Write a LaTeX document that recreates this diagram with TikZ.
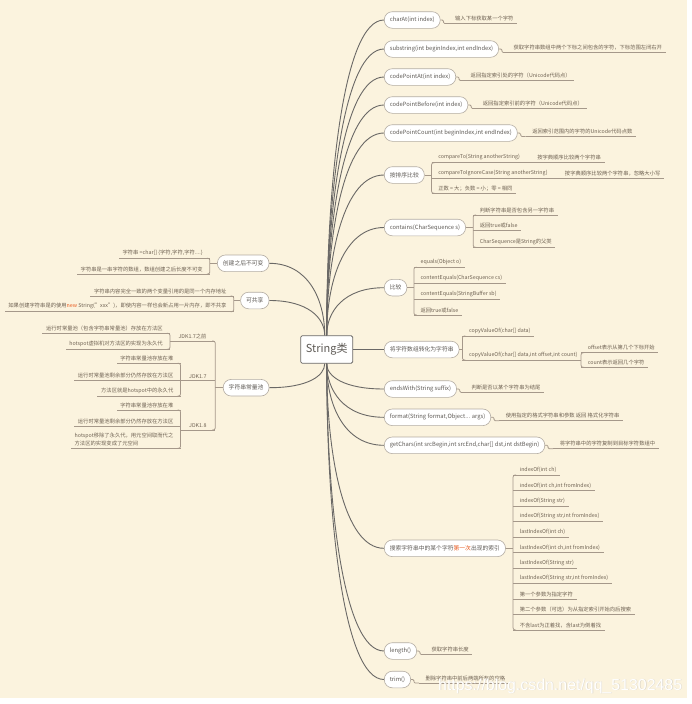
\documentclass[tikz,border=0pt]{standalone}
\usepackage{fontspec}
\setmainfont{Noto Sans CJK SC}
\newfontfamily\wmfont{Liberation Sans}
\usetikzlibrary{calc}
\definecolor{bg}{HTML}{FBF3DE}
\definecolor{nodeborder}{HTML}{B3ACA2}
\definecolor{nodetext}{HTML}{5E5A55}
\definecolor{subtext}{HTML}{6E6152}
\definecolor{ulc}{HTML}{A5988A}
\definecolor{connc}{HTML}{6A6866}
\definecolor{hl}{HTML}{E85A1E}
\definecolor{wmgray}{HTML}{DDD7CA}
\tikzset{
 rootbox/.style={draw=connc, line width=0.8pt, fill=white, rounded corners=1.5pt, minimum width=52pt, minimum height=27.6pt, inner sep=0pt, text=nodetext, font=\fontsize{11}{13}\selectfont},
 topic/.style={draw=nodeborder, line width=0.6pt, fill=white, rounded corners=8pt, minimum height=16.6pt, inner xsep=5.5pt, inner ysep=0pt, text=nodetext, font=\fontsize{5.8}{7}\selectfont},
 sub/.style={inner xsep=0pt, inner ysep=2.2pt, text=subtext, align=left, font=\fontsize{5.3}{8}\selectfont},
 uline/.style={draw=ulc, line width=0.75pt},
 conn/.style={draw=connc, line width=0.9pt},
}
% single label after a topic
\newcommand\TL[3]{%
  \coordinate (#1-a) at ([xshift=8pt,yshift=-3.5pt]#2.east);
  \node[sub, anchor=south west] (#1) at ([xshift=6.5pt]#1-a) {#3};
  \draw[uline] (#1-a) -- ([xshift=3.5pt]#1.south east);
  \draw[uline, rounded corners=1.2pt] (#2.east) -- ++(3pt,0pt) |- (#1-a);}
% right child on bracket
\newcommand\RS[4]{%
  \coordinate (#1-a) at (#2 |- 0,#3);
  \node[sub, anchor=south west] (#1) at ([xshift=6.5pt]#1-a) {#4};
  \draw[uline] (#1-a) -- ([xshift=3.5pt]#1.south east);}
% left child on bracket
\newcommand\LS[4]{%
  \coordinate (#1-a) at (#2 |- 0,#3);
  \node[sub, anchor=south east] (#1) at ([xshift=-7pt]#1-a) {#4};
  \draw[uline] (#1-a) -- ([xshift=-3.5pt]#1.south west);}
% JDK nodes
\newcommand\JD[4]{%
  \coordinate (#1-a) at (#2 |- 0,#3);
  \node[sub, inner xsep=8.5pt, anchor=south east] (#1) at (#1-a) {#4};
  \draw[uline] (#1.south west) -- (#1.south east);}
\newcommand\BR[2]{%
  \coordinate (#1-b) at ([xshift=#2]#1.east);
  \draw[uline] (#1.east) -- (#1-b);}
\newcommand\BL[2]{%
  \coordinate (#1-b) at ([xshift=-#2]#1.west);
  \draw[uline] (#1.west) -- (#1-b);}
\newcommand\VR[2]{\draw[uline, rounded corners=2pt] ([xshift=3pt]#1-a) -- (#1-a) -- (#2-a) -- ([xshift=3pt]#2-a);}
\newcommand\VL[2]{\draw[uline, rounded corners=2pt] ([xshift=-3pt]#1-a) -- (#1-a) -- (#2-a) -- ([xshift=-3pt]#2-a);}
\newcommand\cc[2]{\draw[conn] (#1) .. controls ($(#1)!0.5!(#1 |- #2)$) and ($(#1 |- #2)!0.3!(#2)$) .. (#2);}

\begin{document}
\begin{tikzpicture}[x=1pt,y=-1pt]
\useasboundingbox (0,0) rectangle (692,704);
\fill[white] (0,0) rectangle (692,704);
\fill[bg] (0,0) rectangle (687,698);

% root
\node[rootbox] (root) at (326.7,349.5) {String类};

% right topics
\node[topic, anchor=west] (charat) at (384,20) {charAt(int index)};
\node[topic, anchor=west] (substr) at (384,49) {substring(int beginIndex,int endIndex)};
\node[topic, anchor=west] (cpa) at (384,77) {codePointAt(int index)};
\node[topic, anchor=west] (cpb) at (384,105) {codePointBefore(int index)};
\node[topic, anchor=west] (cpc) at (384,133) {codePointCount(int beginIndex,int endIndex)};
\node[topic, anchor=west] (sort) at (384,175) {按排序比较};
\node[topic, anchor=west] (contains) at (384,227.5) {contains(CharSequence s)};
\node[topic, anchor=west] (cmp) at (384,287.7) {比较};
\node[topic, anchor=west] (arr) at (384,349.5) {将字符数组转化为字符串};
\node[topic, anchor=west] (ends) at (384,389) {endsWith(String suffix)};
\node[topic, anchor=west] (fmt) at (384,417.3) {format(String format,Object... args)};
\node[topic, anchor=west] (getc) at (384,445.3) {getChars(int srcBegin,int srcEnd,char[] dst,int dstBegin)};
\node[topic, anchor=west] (search) at (384,548.3) {搜索字符串中的某个字符\textcolor{hl}{第一次}出现的索引};
\node[topic, anchor=west] (len) at (384,651) {length()};
\node[topic, anchor=west] (trim) at (384,679.5) {trim()};

% left topics
\node[topic, anchor=east] (immut) at (269.3,263.3) {创建之后不可变};
\node[topic, anchor=east] (share) at (269.3,300.5) {可共享};
\node[topic, anchor=east] (pool) at (269.3,387.7) {字符串常量池};

% main connectors
\coordinate (rt) at (root.north);
\coordinate (rb) at (root.south);
\coordinate (rtl) at ([xshift=-2pt]root.north);
\coordinate (rbl) at ([xshift=-2pt]root.south);
\cc{rt}{charat.west}
\cc{rt}{substr.west}
\cc{rt}{cpa.west}
\cc{rt}{cpb.west}
\cc{rt}{cpc.west}
\cc{rt}{sort.west}
\cc{rt}{contains.west}
\cc{rt}{cmp.west}
\draw[conn] (root.east) -- (arr.west);
\cc{rb}{ends.west}
\cc{rb}{fmt.west}
\cc{rb}{getc.west}
\cc{rb}{search.west}
\cc{rb}{len.west}
\cc{rb}{trim.west}
\cc{rtl}{immut.east}
\cc{rtl}{share.east}
\cc{rbl}{pool.east}

% single labels
\TL{charatl}{charat}{输入下标获取某一个字符}
\TL{substrl}{substr}{获取字符串数组中两个下标之间包含的字符，下标范围左闭右开}
\TL{cpal}{cpa}{返回指定索引处的字符（Unicode代码点）}
\TL{cpbl}{cpb}{返回指定索引前的字符（Unicode代码点）}
\TL{cpcl}{cpc}{返回索引范围内的字符的Unicode代码点数}
\TL{endsl}{ends}{判断是否以某个字符串为结尾}
\TL{fmtl}{fmt}{使用指定的格式字符串和参数 返回 格式化字符串}
\TL{getcl}{getc}{将字符串中的字符复制到目标字符数组中}
\TL{lenl}{len}{获取字符串长度}
\TL{triml}{trim}{删除字符串中前后两端所有的空格}

% 按排序比较
\BR{sort}{7pt}
\RS{cmpa}{sort-b}{162.7}{compareTo(String anotherString)}
\RS{cmpb}{sort-b}{178.3}{compareToIgnoreCase(String anotherString)}
\RS{cmpc}{sort-b}{193.3}{正数 = 大；负数 = 小；零 = 相同}
\VR{cmpa}{cmpc}
\node[sub, anchor=south west] (cmpad) at ([xshift=17pt]cmpa.south east) {按字典顺序比较两个字符串};
\draw[uline] (cmpa.south east) -- ([xshift=3.5pt]cmpad.south east);
\node[sub, anchor=south west] (cmpbd) at ([xshift=17pt]cmpb.south east) {按字典顺序比较两个字符串，忽略大小写};
\draw[uline] (cmpb.south east) -- ([xshift=3.5pt]cmpbd.south east);

% contains
\BR{contains}{7.3pt}
\RS{cta}{contains-b}{215}{判断字符串是否包含另一字符串}
\RS{ctb}{contains-b}{230.7}{返回true或false}
\RS{ctc}{contains-b}{247.3}{CharSequence是String的父类}
\VR{cta}{ctc}

% 比较
\BR{cmp}{6.7pt}
\RS{eqa}{cmp-b}{267.3}{equals(Object o)}
\RS{eqb}{cmp-b}{283.3}{contentEquals(CharSequence cs)}
\RS{eqc}{cmp-b}{299.3}{contentEquals(StringBuffer sb)}
\RS{eqd}{cmp-b}{315}{返回true或false}
\VR{eqa}{eqd}

% 将字符数组转化为字符串
\BR{arr}{3pt}
\RS{cva}{arr-b}{336}{copyValueOf(char[] data)}
\RS{cvb}{arr-b}{360}{copyValueOf(char[] data,int offset,int count)}
\VR{cva}{cvb}
\coordinate (cvb-b) at ([xshift=3.5pt]cvb.south east);
\RS{offs}{cvb-b}{352.7}{offset表示从第几个下标开始}
\RS{cnt}{cvb-b}{367.3}{count表示返回几个字符}
\VR{offs}{cnt}

% search
\BR{search}{7.3pt}
\RS{sa}{search-b}{475}{indexOf(int ch)}
\RS{sb}{search-b}{490.5}{indexOf(int ch,int fromIndex)}
\RS{sc}{search-b}{506}{indexOf(String str)}
\RS{sd}{search-b}{521.5}{indexOf(String str,int fromIndex)}
\RS{se}{search-b}{537}{lastIndexOf(int ch)}
\RS{sf}{search-b}{552.5}{lastIndexOf(int ch,int fromIndex)}
\RS{sg}{search-b}{568}{lastIndexOf(String str)}
\RS{sh}{search-b}{583.5}{lastIndexOf(String str,int fromIndex)}
\RS{si}{search-b}{599}{第一个参数为指定字符}
\RS{sj}{search-b}{614.5}{第二个参数（可选）为从指定索引开始向后搜索}
\RS{sk}{search-b}{630}{不含last为正着找，含last为倒着找}
\VR{sa}{sk}

% 创建之后不可变
\BL{immut}{7.3pt}
\LS{ima}{immut-b}{258.3}{字符串 =char[] \{字符,字符,字符....\}}
\LS{imb}{immut-b}{274}{字符串是一串字符的数组，数组创建之后长度不可变}
\VL{ima}{imb}

% 可共享
\BL{share}{6.6pt}
\LS{sha}{share-b}{296}{字符串内容完全一致的两个变量引用的是同一个内存地址}
\LS{shb}{share-b}{311.7}{如果创建字符串是的使用\textcolor{hl}{new} String("xxx")，即使内容一样也会新占用一片内存，即不共享}
\VL{sha}{shb}

% 字符串常量池
\BL{pool}{7.7pt}
\JD{jd0}{pool-b}{341}{JDK1.7之前}
\JD{jd7}{pool-b}{380.7}{JDK1.7}
\JD{jd8}{pool-b}{430}{JDK1.8}
\VL{jd0}{jd8}
\coordinate (jd0-b) at (jd0.south west);
\coordinate (jd7-b) at (jd7.south west);
\coordinate (jd8-b) at (jd8.south west);
\LS{p0a}{jd0-b}{333.3}{运行时常量池（包含字符串常量池）存放在方法区}
\LS{p0b}{jd0-b}{349.3}{hotspot虚拟机对方法区的实现为永久代}
\VL{p0a}{p0b}
\LS{p7a}{jd7-b}{363.3}{字符串常量池存放在堆}
\LS{p7b}{jd7-b}{380.7}{运行时常量池剩余部分仍然存放在方法区}
\LS{p7c}{jd7-b}{396}{方法区就是hotspot中的永久代}
\VL{p7a}{p7c}
\LS{p8a}{jd8-b}{410}{字符串常量池存放在堆}
\LS{p8b}{jd8-b}{426.7}{运行时常量池剩余部分仍然存放在方法区}
\LS{p8c}{jd8-b}{448.3}{hotspot移除了永久代，用元空间取而代之\\方法区的实现变成了元空间}
\VL{p8a}{p8c}

% watermark
\node[font=\wmfont\fontsize{15.9}{16}\selectfont, text=wmgray, anchor=west, inner sep=0pt] (wmshadow) at (438.6,686.6) {https://blog.csdn.net/qq\_51302485};
\node[font=\wmfont\fontsize{15.9}{16}\selectfont, text=white, anchor=west, inner sep=0pt] (wm) at (438,686) {https://blog.csdn.net/qq\_51302485};
\end{tikzpicture}
\end{document}
